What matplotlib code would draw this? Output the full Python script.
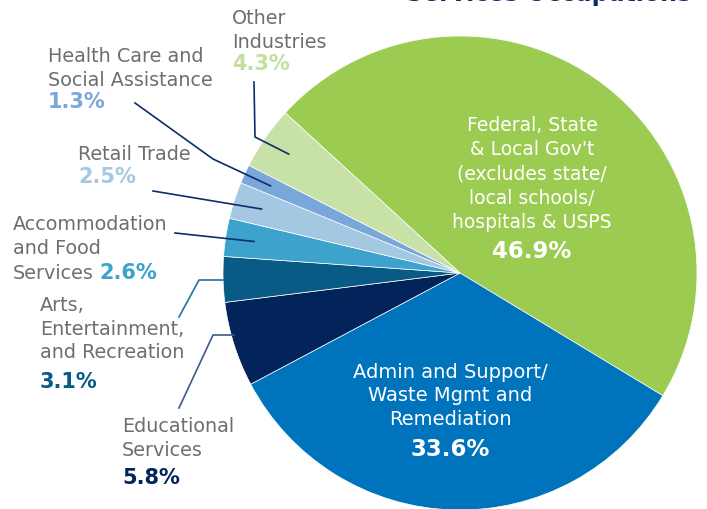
import numpy as np
import matplotlib
matplotlib.use("Agg")
import matplotlib.pyplot as plt

# data
labels = ["Federal, State\n& Local Gov't\n(excludes state/\nlocal schools/\nhospitals & USPS",
          "Admin and Support/\nWaste Mgmt and\nRemediation",
          "Educational\nServices",
          "Arts,\nEntertainment,\nand Recreation",
          "Accommodation\nand Food\nServices",
          "Retail Trade",
          "Health Care and\nSocial Assistance",
          "Other\nIndustries"]
shares = [46.9, 33.6, 5.8, 3.1, 2.6, 2.5, 1.3, 4.3]
colors = ["#9BCB50", "#0073BD", "#02245A", "#0A5A86", "#3DA2CC", "#A4C8E2", "#7AA7DA", "#C8E1A6"]
pct_colors = ["white", "white", "#02245A", "#0A5A86", "#3DA2CC", "#A4C8E2", "#7AA7DA", "#C3DE9E"]

grey = "#6D6E70"
navy = "#0C2D6B"
plt.rcParams["font.family"] = ["DejaVu Sans"]

fig = plt.figure(figsize=(7.07, 5.10), dpi=100)
ax = fig.add_axes([0, 0, 1, 1])

cx, cy, R = 460, 274, 237
wedges, _ = ax.pie(shares, colors=colors, startangle=-137.5, counterclock=True,
                   center=(cx, cy), radius=R, frame=True,
                   wedgeprops=dict(edgecolor="white", linewidth=0.5))
ax.set_xlim(0, 707)
ax.set_ylim(510, 0)
ax.set_aspect("equal")
ax.axis("off")


def wedge_point(w, frac):
    t = np.deg2rad((w.theta1 + w.theta2) / 2)
    return cx + R * frac * np.cos(t), cy + R * frac * np.sin(t)


pct = ["%.1f%%" % s for s in shares]
fs = 13.8
ls = 1.31

# inside labels
ax.text(532, 174, labels[0], color="white", fontsize=13.5, ha="center", va="center",
        linespacing=1.34)
ax.text(532, 252, pct[0], color="white", fontsize=16.5, fontweight="bold", ha="center", va="center")
ax.text(450, 396, labels[1], color="white", fontsize=14, ha="center", va="center",
        linespacing=1.29)
ax.text(450, 450, pct[1], color="white", fontsize=16.5, fontweight="bold", ha="center", va="center")

# outside labels
ts = dict(color=grey, fontsize=fs, va="top", ha="left", linespacing=ls)
ps = dict(fontsize=15, fontweight="bold", va="top", ha="left")

# Other Industries
ax.text(232, 9, labels[7], **ts)
ax.text(232, 54, pct[7], color=pct_colors[7], **ps)
x0, y0 = wedge_point(wedges[7], 0.88)
ax.plot([254, 255, x0], [83, 138, y0], color=navy, lw=1.2)

# Health Care
ax.text(48, 47, labels[6], **ts)
ax.text(48, 92, pct[6], color=pct_colors[6], **ps)
x0, y0 = wedge_point(wedges[6], 0.88)
ax.plot([135, 213, x0], [104, 160, y0], color=navy, lw=1.2)

# Retail Trade
ax.text(78, 145, labels[5], **ts)
ax.text(78, 167, pct[5], color=pct_colors[5], **ps)
x0, y0 = wedge_point(wedges[5], 0.88)
ax.plot([153, x0], [192, y0], color=navy, lw=1.2)

# Accommodation
ax.text(13, 215, "Accommodation\nand Food", **ts)
sv = ax.text(13, 279, "Services", color=grey, fontsize=fs, ha="left", va="baseline")
ax.annotate(pct[4], xy=(1, 0), xycoords=sv, xytext=(4, 0), textcoords="offset points",
            color=pct_colors[4], fontsize=15, fontweight="bold", ha="left", va="bottom")
x0, y0 = wedge_point(wedges[4], 0.88)
ax.plot([175, x0], [234, y0], color=navy, lw=1.2)

# Arts
ax.text(40, 296, labels[3], **ts)
ax.text(40, 372, pct[3], color=pct_colors[3], **ps)
x0, y0 = wedge_point(wedges[3], 1.0)
ax.plot([179, 199, x0], [318, 281, 281], color="#2470A0", lw=1.2)

# Educational
ax.text(122, 417, labels[2], **ts)
ax.text(122, 468, pct[2], color=pct_colors[2], **ps)
x0, y0 = wedge_point(wedges[2], 1.0)
ax.plot([179, 213, x0], [409, 336, 336], color="#3C5A8C", lw=1.2)

# title (cropped at the top)
ax.text(691, 1.5, "Services Occupations", color=navy, fontsize=17, fontweight="bold",
        ha="right", va="baseline")

fig.savefig("out.png", dpi=100)
